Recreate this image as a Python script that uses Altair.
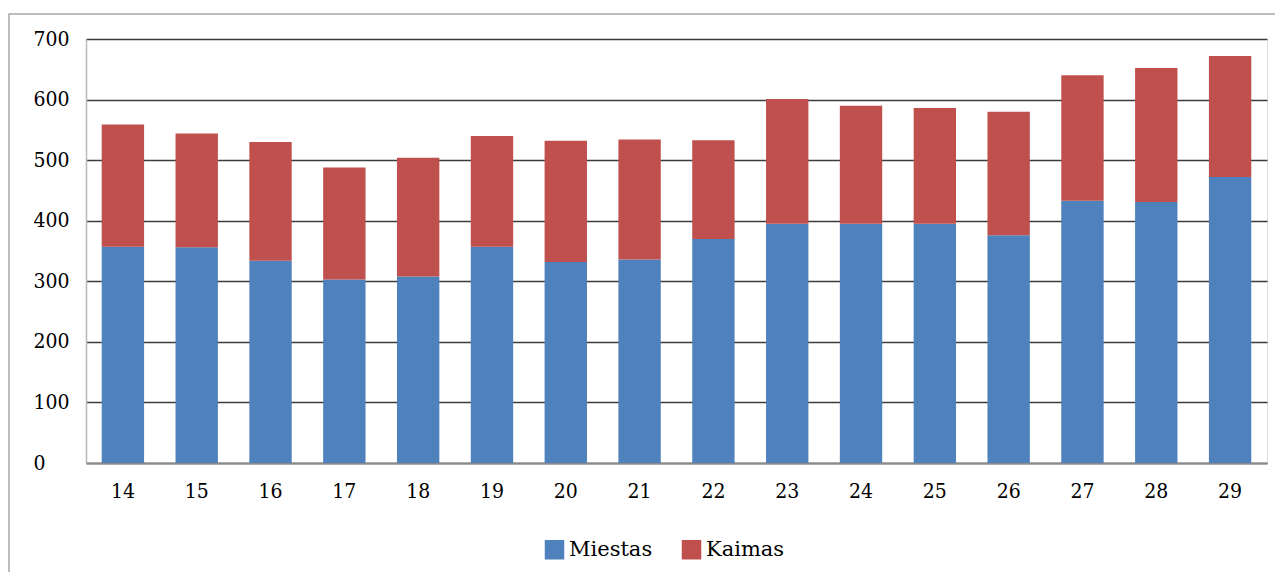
import altair as alt
import pandas as pd

years = ["14", "15", "16", "17", "18", "19", "20", "21",
         "22", "23", "24", "25", "26", "27", "28", "29"]
miestas = [357, 356, 334, 303, 308, 357, 332, 336, 370, 395, 395, 395, 376, 433, 431, 472]
kaimas = [202, 188, 196, 185, 196, 183, 200, 198, 163, 206, 195, 191, 204, 207, 221, 200]
series = ["Miestas", "Kaimas"]
colors = ["#4F81BD", "#C0504D"]
y_ticks = [0, 100, 200, 300, 400, 500, 600, 700]

rows = []
for i, yr in enumerate(years):
    rows.append({"year": yr, "series": series[0], "value": miestas[i], "ord": 0})
    rows.append({"year": yr, "series": series[1], "value": kaimas[i], "ord": 1})
df = pd.DataFrame(rows)

FONT_AX = "DejaVu Serif Condensed"
FONT_LG = "DejaVu Serif"
W, H = 1181, 424

bars = alt.Chart(df).mark_bar().encode(
    x=alt.X("year:N", sort=years,
            scale=alt.Scale(paddingInner=0.426, paddingOuter=0.213),
            axis=alt.Axis(title=None, labelAngle=0, ticks=False, labelFont=FONT_AX,
                          labelFontSize=21, labelColor="#000", labelPadding=17,
                          domainColor="#8a8a8a", domainWidth=2, grid=False)),
    y=alt.Y("value:Q", stack="zero",
            scale=alt.Scale(domain=[0, 700], nice=False),
            axis=alt.Axis(title=None, values=y_ticks, ticks=False, labelFont=FONT_AX,
                          labelFontSize=21, labelColor="#000", labelAlign="left",
                          labelPadding=53, domainColor="#b8b8b8", domainWidth=1.5,
                          gridColor="#3c3c3c", gridWidth=1.6)),
    color=alt.Color("series:N", sort=series,
                    scale=alt.Scale(domain=series, range=colors),
                    legend=alt.Legend(title=None, orient="none", direction="horizontal",
                                      legendX=458, legendY=500, symbolType="square",
                                      symbolSize=380, symbolStrokeWidth=0,
                                      labelFont=FONT_LG, labelFontSize=21, labelColor="#000",
                                      labelOffset=4, columnPadding=28, padding=0)),
    order=alt.Order("ord:Q"),
)

border = alt.Chart(pd.DataFrame({"a": [0]})).mark_rect(
    fill=None, stroke="#a8a8a8", strokeWidth=1.5
).encode(
    x=alt.value(-77), x2=alt.value(W + 60),
    y=alt.value(-25), y2=alt.value(H + 200),
)

chart = alt.layer(border, bars).properties(
    width=W, height=H,
    autosize=alt.AutoSizeParams(type="none"),
    padding={"left": 78, "top": 31, "right": 8, "bottom": 109},
).configure_view(stroke="#b8b8b8", strokeWidth=1.5).configure(background="white")

chart.save("out.html", embed_options={"renderer": "svg", "actions": False})
